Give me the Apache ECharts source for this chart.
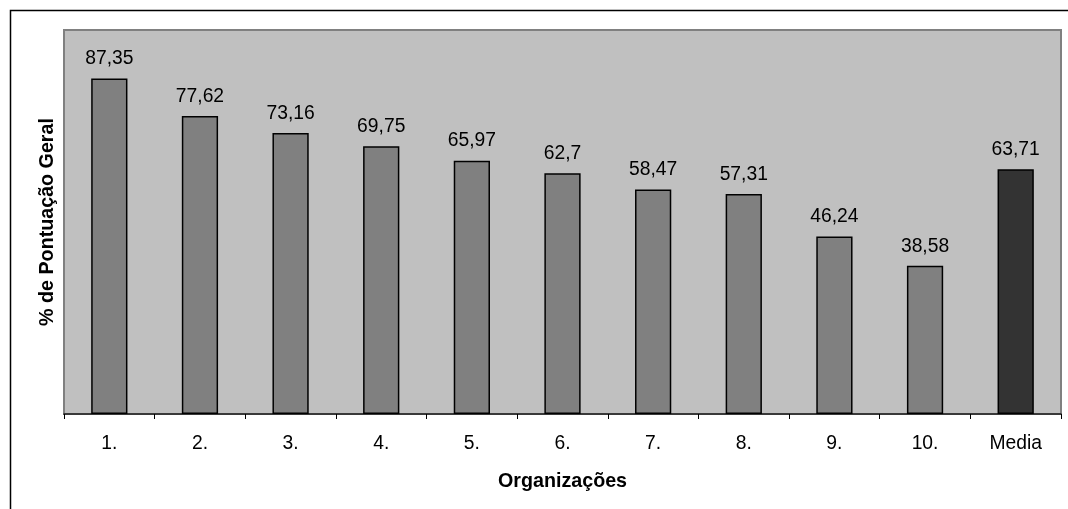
<!DOCTYPE html>
<html>
<head>
<meta charset="utf-8">
<script src="https://cdn.jsdelivr.net/npm/echarts@6/dist/echarts.min.js"></script>
<style>
  html, body { margin: 0; padding: 0; background: #ffffff; }
  #chart { width: 1068px; height: 509px; }
</style>
</head>
<body>
<div id="chart"></div>
<script>
// Organizações e percentagem de pontuação geral
const categories = ['1.', '2.', '3.', '4.', '5.', '6.', '7.', '8.', '9.', '10.', 'Media'];
const scores = [87.35, 77.62, 73.16, 69.75, 65.97, 62.7, 58.47, 57.31, 46.24, 38.58, 63.71];
const averageLabel = 'Media';

const FONT = '"Liberation Sans", Arial, sans-serif';

const barData = categories.map((c, i) => ({
  value: scores[i],
  itemStyle: { color: c === averageLabel ? '#333333' : '#808080' }
}));

const chart = echarts.init(document.getElementById('chart'), null, { renderer: 'canvas' });
chart.setOption({
  backgroundColor: '#ffffff',
  animation: false,
  textStyle: { fontFamily: FONT },
  graphic: [{
    type: 'rect',
    shape: { x: 10.5, y: 10.5, width: 1200, height: 700 },
    style: { fill: 'none', stroke: '#000000', lineWidth: 1.5 },
    silent: true,
    z: 0
  }],
  grid: {
    left: 64, top: 30, right: 7, bottom: 95,
    show: true,
    backgroundColor: '#c0c0c0',
    borderColor: '#808080',
    borderWidth: 2
  },
  xAxis: {
    type: 'category',
    data: categories,
    name: 'Organizações',
    nameLocation: 'middle',
    nameGap: 58,
    nameTextStyle: { fontSize: 19.7, fontWeight: 'bold', color: '#000000', fontFamily: FONT },
    axisLine: { lineStyle: { color: '#222222', width: 1.5 } },
    axisTick: { show: true, alignWithLabel: false, interval: 0, length: 5, lineStyle: { color: '#000000', width: 1 } },
    axisLabel: { fontSize: 19.3, color: '#000000', margin: 20, fontFamily: FONT }
  },
  yAxis: {
    type: 'value',
    min: 0,
    max: 100,
    name: '% de Pontuação Geral',
    nameLocation: 'middle',
    nameGap: 6,
    nameTextStyle: { fontSize: 19.7, fontWeight: 'bold', color: '#000000', fontFamily: FONT },
    axisLine: { show: true, lineStyle: { color: '#808080', width: 2 } },
    axisTick: { show: false },
    axisLabel: { show: false },
    splitLine: { show: false }
  },
  series: [{
    type: 'bar',
    data: barData,
    barWidth: '40%',
    itemStyle: { borderColor: '#000000', borderWidth: 1.5 },
    label: {
      show: true,
      position: 'top',
      distance: 10,
      fontSize: 19.3,
      color: '#000000',
      fontFamily: FONT,
      formatter: p => String(p.value).replace('.', ',')
    }
  }]
});
</script>
</body>
</html>
